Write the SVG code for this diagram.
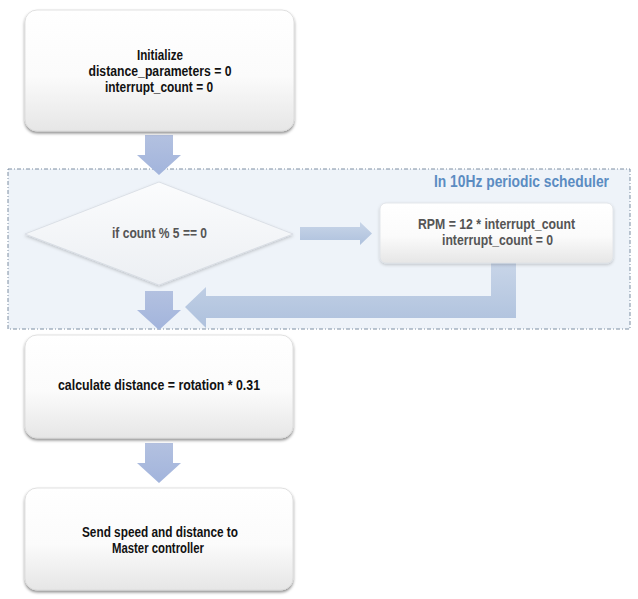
<svg xmlns="http://www.w3.org/2000/svg" width="638" height="599" viewBox="0 0 638 599">
<defs>
  <linearGradient id="boxg" x1="0" y1="0" x2="0" y2="1">
    <stop offset="0" stop-color="#ffffff"/>
    <stop offset="0.55" stop-color="#fbfbfb"/>
    <stop offset="1" stop-color="#e6e6e6"/>
  </linearGradient>
  <linearGradient id="diag" x1="0" y1="0" x2="0" y2="1">
    <stop offset="0" stop-color="#fbfcfd"/>
    <stop offset="1" stop-color="#eceff3"/>
  </linearGradient>
  <linearGradient id="arrv" x1="0" y1="0" x2="0" y2="1">
    <stop offset="0" stop-color="#b3c1e0"/>
    <stop offset="1" stop-color="#a2b4dc"/>
  </linearGradient>
  <linearGradient id="arrh" x1="0" y1="0" x2="0" y2="1">
    <stop offset="0" stop-color="#c8d5e8"/>
    <stop offset="1" stop-color="#aec1dd"/>
  </linearGradient>
  <filter id="sh" x="-10%" y="-10%" width="120%" height="130%">
    <feDropShadow dx="0" dy="2" stdDeviation="1.6" flood-color="#000" flood-opacity="0.45"/>
  </filter>
  <filter id="shs" x="-10%" y="-10%" width="120%" height="130%">
    <feDropShadow dx="0" dy="1.5" stdDeviation="1.5" flood-color="#000" flood-opacity="0.2"/>
  </filter>
</defs>
<style>
  .box { fill: url(#boxg); stroke: #d9d9d9; stroke-width: 0.8; filter: url(#sh); }
  .t { font-family: "Liberation Sans", Arial, sans-serif; font-weight: bold; text-anchor: middle; }
  .dark { fill: #111; font-size: 14.5px; }
  .grey { fill: #555; font-size: 14.5px; }
  .av { fill: url(#arrv); }
  .ah { fill: url(#arrh); }
</style>
<rect width="638" height="599" fill="#ffffff"/>

<g id="scheduler">
  <rect x="8" y="169" width="622" height="160" fill="#eef3f9" stroke="#7d8ea2" stroke-width="1" stroke-dasharray="4,2,1,2"/>
  <text x="609" y="187" textLength="175" lengthAdjust="spacingAndGlyphs" style="font-family: 'Liberation Sans', Arial, sans-serif; font-weight: bold; font-size: 16px; fill: #5b8cc2; text-anchor: end;">In 10Hz periodic scheduler</text>
</g>

<g id="connectors">
  <path class="av" d="M145,135 H173 V155 H181 L159,175 L137,155 H145 Z"/>
  <path class="ah" d="M300,227 H360 V222 L372,233.5 L360,245 V240 H300 Z"/>
  <path class="ah" d="M491,263 H516 V318 H206 V328 L185,307 L206,287 V296 H491 Z"/>
  <path class="av" d="M145,291 H173 V310 H181 L159,330 L137,310 H145 Z"/>
  <path class="av" d="M145,443 H173 V463 H181 L159,483 L137,463 H145 Z"/>
</g>

<g id="init">
  <rect class="box" x="25" y="10" width="269" height="121" rx="12"/>
  <text class="t dark" x="160" y="60" textLength="46" lengthAdjust="spacingAndGlyphs">Initialize</text>
  <text class="t dark" x="160" y="76" textLength="143" lengthAdjust="spacingAndGlyphs">distance_parameters = 0</text>
  <text class="t dark" x="159" y="92" textLength="108" lengthAdjust="spacingAndGlyphs">interrupt_count = 0</text>
</g>

<g id="decision">
  <polygon points="159,182 293,234 159,285 25,234" fill="url(#diag)" stroke="#d6dbe2" stroke-width="0.8" filter="url(#shs)"/>
  <text class="t grey" x="159.5" y="238" textLength="95" lengthAdjust="spacingAndGlyphs">if count % 5 == 0</text>
</g>

<g id="rpm">
  <rect class="box" x="380" y="203" width="233" height="60" rx="6" style="stroke:#dde1e6;filter:url(#shs)"/>
  <text class="t grey" x="496.5" y="229" textLength="157" lengthAdjust="spacingAndGlyphs">RPM = 12 * interrupt_count</text>
  <text class="t grey" x="497.5" y="245" textLength="111" lengthAdjust="spacingAndGlyphs">interrupt_count = 0</text>
</g>

<g id="calc">
  <rect class="box" x="25" y="335" width="268" height="103" rx="12"/>
  <text class="t dark" x="159" y="390" textLength="202" lengthAdjust="spacingAndGlyphs">calculate distance = rotation * 0.31</text>
</g>

<g id="send">
  <rect class="box" x="25" y="488" width="268" height="102" rx="12"/>
  <text class="t dark" x="160" y="537" textLength="156" lengthAdjust="spacingAndGlyphs">Send speed and distance to</text>
  <text class="t dark" x="158" y="553" textLength="92" lengthAdjust="spacingAndGlyphs">Master controller</text>
</g>
</svg>
